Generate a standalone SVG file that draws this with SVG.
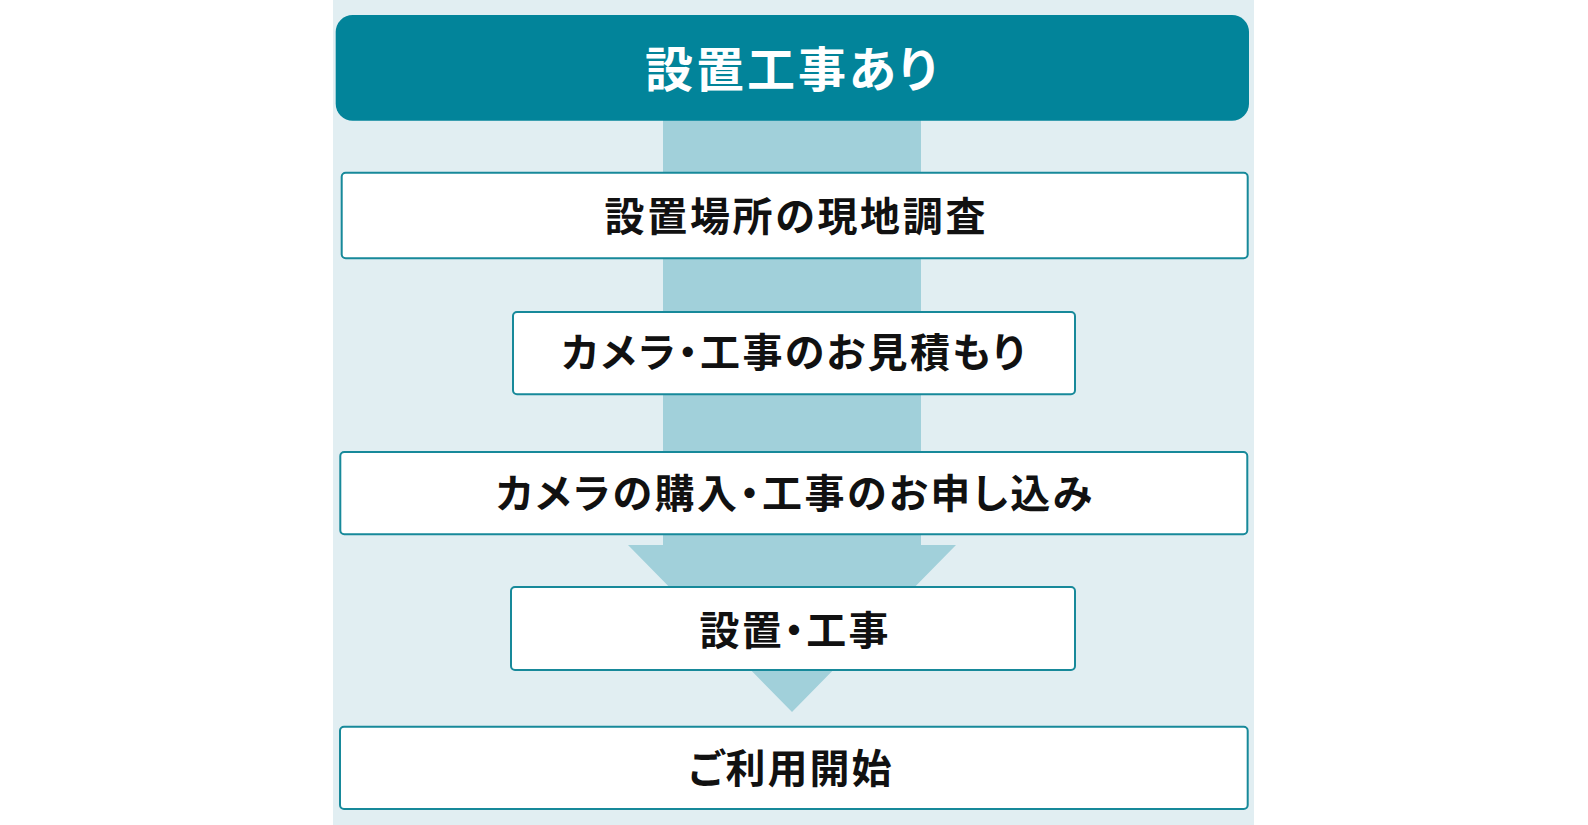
<svg xmlns="http://www.w3.org/2000/svg" width="1588" height="825" viewBox="0 0 1588 825">
  <style>
    .panel { fill: #e1eef2; }
    .header { fill: #02849a; }
    .box { fill: #ffffff; stroke: #17899a; stroke-width: 2; }
    .arrow { fill: #a1d0da; }
    text { font-family: "Noto Sans CJK JP", "Noto Sans", sans-serif; font-weight: 700; text-anchor: middle; dominant-baseline: central; font-feature-settings: "palt"; }
    .title { fill: #ffffff; font-size: 48px; }
    .label { fill: #111111; font-size: 40px; }
  </style>
  <rect class="panel" x="333" y="0" width="921" height="825"/>
  <g id="connectors">
    <polygon class="arrow" points="663,118 921,118 921,545 956,545 792,712 628,545 663,545"/>
  </g>
  <g id="header">
    <rect class="header" x="335.7" y="15" width="913.3" height="105.7" rx="17"/>
    <text class="title" x="791" y="66" textLength="292" lengthAdjust="spacing">設置工事あり</text>
  </g>
  <g id="step1">
    <rect class="box" x="341.7" y="172.7" width="906" height="85.6" rx="4"/>
    <text class="label" x="795" y="213.5" textLength="381" lengthAdjust="spacing">設置場所の現地調査</text>
  </g>
  <g id="step2">
    <rect class="box" x="513" y="312" width="562" height="82.3" rx="4"/>
    <text class="label" x="793" y="349.5" textLength="463" lengthAdjust="spacing">カメラ・工事のお見積もり</text>
  </g>
  <g id="step3">
    <rect class="box" x="340.3" y="452" width="907" height="82.3" rx="4"/>
    <text class="label" x="794" y="490.5" textLength="596" lengthAdjust="spacing">カメラの購入・工事のお申し込み</text>
  </g>
  <g id="step4">
    <rect class="box" x="511" y="587" width="564" height="83" rx="4"/>
    <text class="label" x="794" y="628" textLength="189" lengthAdjust="spacing">設置・工事</text>
  </g>
  <g id="step5">
    <rect class="box" x="340" y="726.7" width="907.7" height="82.3" rx="4"/>
    <text class="label" x="790" y="765.5" textLength="203" lengthAdjust="spacing">ご利用開始</text>
  </g>
</svg>
